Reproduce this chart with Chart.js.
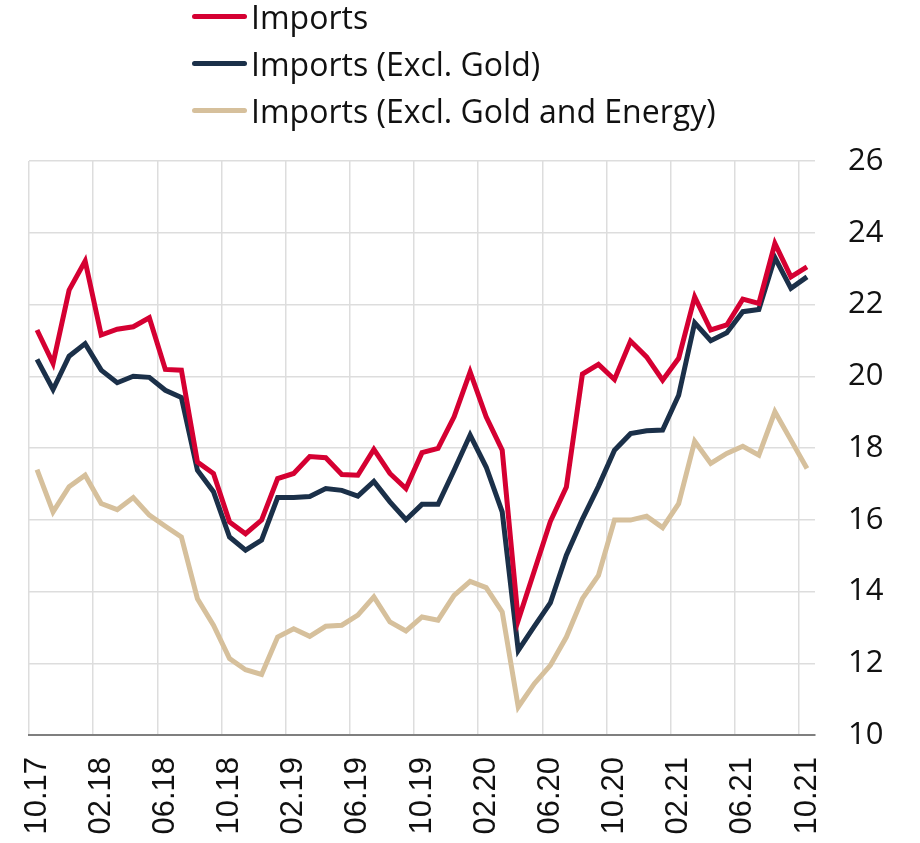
<!DOCTYPE html>
<html>
<head>
<meta charset="utf-8">
<script src="https://cdn.jsdelivr.net/npm/chart.js@4.4.1/dist/chart.umd.min.js"></script>
<style>
    body { margin: 0; background: #fff; }
    #wrap { position: relative; width: 920px; height: 843px; }
    #legend { position: absolute; left: 192px; top: -7px; font-family: "Open Sans", sans-serif; font-size: 32px; color: #111; }
    .item { height: 47px; display: flex; align-items: center; white-space: nowrap; }
    .swatch { width: 55px; height: 5px; border-radius: 3px; margin-right: 4px; }
</style>
</head>
<body>
<div id="wrap">
    <canvas id="chart" width="920" height="843"></canvas>
    <div id="legend"></div>
</div>
<script>
// monthly labels 10.17 .. 10.21
var months = [
    "10.17","11.17","12.17","01.18","02.18","03.18","04.18","05.18","06.18","07.18","08.18","09.18",
    "10.18","11.18","12.18","01.19","02.19","03.19","04.19","05.19","06.19","07.19","08.19","09.19",
    "10.19","11.19","12.19","01.20","02.20","03.20","04.20","05.20","06.20","07.20","08.20","09.20",
    "10.20","11.20","12.20","01.21","02.21","03.21","04.21","05.21","06.21","07.21","08.21","09.21",
    "10.21"
];

var imports = [21.29,20.36,22.4,23.21,21.15,21.31,21.38,21.63,20.19,20.17,
    17.61,17.29,15.94,15.61,15.99,17.15,17.29,17.76,17.73,17.26,
    17.24,17.96,17.29,16.87,17.87,17.99,18.87,20.12,18.87,17.94,
    13.2,14.57,15.95,16.91,20.06,20.33,19.91,20.98,20.54,19.89,
    20.5,22.21,21.29,21.43,22.15,22.03,23.7,22.77,23.05];

var importsExclGold = [20.47,19.63,20.56,20.91,20.17,19.82,20.0,19.97,19.61,19.41,
    17.38,16.78,15.52,15.15,15.43,16.62,16.62,16.65,16.87,16.82,
    16.66,17.07,16.5,16.0,16.43,16.43,17.38,18.36,17.47,16.22,
    12.36,13.03,13.68,15.01,16.02,16.93,17.94,18.4,18.48,18.5,
    19.47,21.49,20.99,21.21,21.8,21.86,23.31,22.45,22.77];

var importsExclGoldEnergy = [17.4,16.22,16.92,17.24,16.45,16.28,16.62,16.13,15.82,15.52,
    13.8,13.06,12.13,11.82,11.69,12.73,12.96,12.75,13.03,13.06,
    13.34,13.85,13.15,12.9,13.29,13.2,13.89,14.28,14.11,13.43,
    10.78,11.43,11.94,12.73,13.8,14.45,15.99,15.99,16.1,15.78,
    16.45,18.19,17.57,17.85,18.05,17.8,19.01,18.22,17.43];

var seriesNames = ["Imports", "Imports (Excl. Gold)", "Imports (Excl. Gold and Energy)"];
var seriesColors = ["#d50032", "#1b3049", "#d6c09c"];
var yTicks = [10, 12, 14, 16, 18, 20, 22, 24, 26];

var allData = [imports, importsExclGold, importsExclGoldEnergy];
var datasets = [];
for (var i = 0; i < allData.length; i++) {
    datasets.push({
        label: seriesNames[i],
        data: allData[i],
        borderColor: seriesColors[i],
        backgroundColor: seriesColors[i],
        borderWidth: 5,
        pointRadius: 0,
        tension: 0,
        fill: false
    });
}

// legend as html so all rows share the same left edge
var legendHtml = '';
for (var j = 0; j < seriesNames.length; j++) {
    legendHtml += '<div class="item"><span class="swatch" style="background:' + seriesColors[j] + '"></span>' + seriesNames[j] + '</div>';
}
document.getElementById('legend').innerHTML = legendHtml;

new Chart(document.getElementById('chart'), {
    type: 'line',
    data: { labels: months, datasets: datasets },
    options: {
        responsive: false,
        animation: false,
        layout: { padding: { top: 161, left: 29, right: 0, bottom: 0 } },
        plugins: {
            legend: { display: false },
            tooltip: { enabled: false }
        },
        scales: {
            x: {
                offset: true,
                grid: {
                    offset: true,
                    drawTicks: false,
                    lineWidth: 1.5,
                    color: function(ctx) {
                        return ctx.index % 4 === 0 ? '#dddddd' : 'rgba(0,0,0,0)';
                    }
                },
                border: { display: true, color: '#7f7f7f', width: 2 },
                ticks: {
                    autoSkip: false,
                    maxRotation: 90,
                    minRotation: 90,
                    padding: 22,
                    color: '#111',
                    font: { family: '"Liberation Sans", Arial, sans-serif', size: 31 },
                    callback: function(val, idx) {
                        return idx % 4 === 0 ? months[idx] : '';
                    }
                },
                afterFit: function(scale) { scale.height = 108; }
            },
            y: {
                position: 'right',
                min: 10,
                max: 26,
                afterBuildTicks: function(scale) {
                    scale.ticks = yTicks.map(function(v) { return { value: v }; });
                },
                grid: { drawTicks: false, color: '#dddddd', lineWidth: 1.5 },
                border: { display: false },
                ticks: {
                    padding: 33,
                    color: '#111',
                    font: { family: '"Open Sans", sans-serif', size: 31 }
                },
                afterFit: function(scale) { scale.width = 105; }
            }
        }
    }
});
</script>
</body>
</html>
